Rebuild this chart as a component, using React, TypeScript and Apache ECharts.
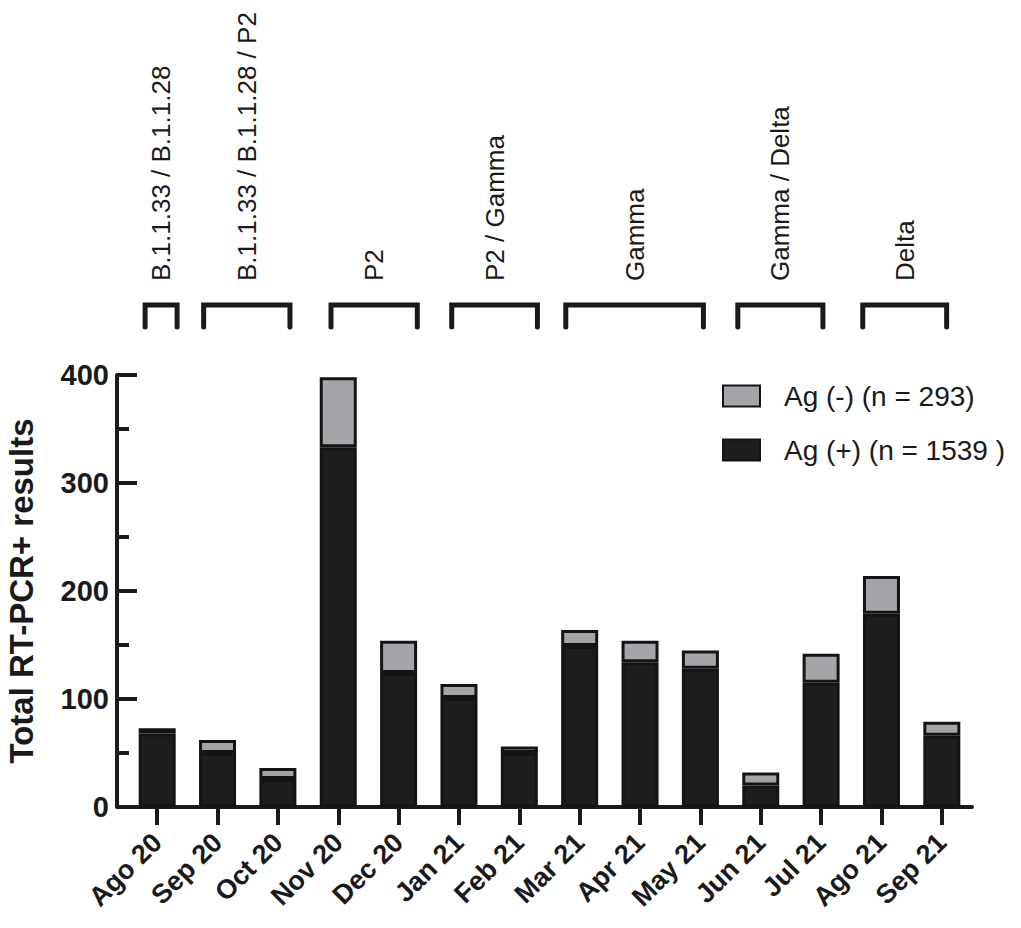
import React, { useEffect, useRef } from "react";
import * as echarts from "echarts";

const categories = ["Ago 20", "Sep 20", "Oct 20", "Nov 20", "Dec 20", "Jan 21", "Feb 21", "Mar 21", "Apr 21", "May 21", "Jun 21", "Jul 21", "Ago 21", "Sep 21"];
const agPositive = [68, 50, 26, 333, 124, 101, 50, 149, 134, 128, 20, 115, 179, 66];
const agNegative = [5, 12, 10, 65, 30, 13, 6, 15, 20, 17, 12, 27, 35, 13];
const yTicks = { min: 0, max: 400, interval: 100 };

const lineageNames = ["B.1.1.33 / B.1.1.28", "B.1.1.33 / B.1.1.28 / P2", "P2", "P2 / Gamma", "Gamma", "Gamma / Delta", "Delta"];
// bracket spans in category units (fractional index positions)
const lineageStart = [-0.2, 0.77, 2.88, 4.88, 6.77, 9.62, 11.69];
const lineageEnd = [0.33, 2.2, 4.31, 6.3, 9.05, 11.03, 13.08];

const seriesNames = ["Ag (+) (n = 1539 )", "Ag (-) (n = 293)"];

const FONT = "'Liberation Sans', Arial, Helvetica, sans-serif";
const INK = "#1a1a1a";

export default function App() {
  const ref = useRef<HTMLDivElement>(null);
  useEffect(() => {
    document.body.style.margin = "0";
    if (!ref.current) return;
    const chart = echarts.init(ref.current, undefined, { renderer: "svg" });
    const option: any = {
      animation: false,
      backgroundColor: "#ffffff",
      textStyle: { fontFamily: FONT },
      grid: { left: 127, right: 49, top: 375, bottom: 121, containLabel: false, outerBoundsMode: "none" },
      legend: {
        orient: "vertical",
        left: 717,
        top: 377,
        itemWidth: 37,
        itemHeight: 21,
        itemGap: 26,
        icon: "rect",
        data: [seriesNames[1], seriesNames[0]],
        textStyle: { fontFamily: FONT, fontSize: 28, color: INK, padding: [0, 0, 0, 19] },
      },
      xAxis: {
        type: "category",
        data: categories,
        axisLine: { show: true, lineStyle: { color: INK, width: 4 } },
        axisTick: { show: true, alignWithLabel: true, length: 18, lineStyle: { color: INK, width: 4 } },
        axisLabel: {
          interval: 0,
          rotate: 45,
          margin: 31,
          fontFamily: FONT,
          fontSize: 27,
          fontWeight: "bold",
          color: INK,
        },
        splitLine: { show: false },
      },
      yAxis: {
        type: "value",
        min: yTicks.min,
        max: yTicks.max,
        interval: yTicks.interval,
        offset: 10,
        name: "Total RT-PCR+ results",
        nameLocation: "middle",
        nameGap: 79,
        nameTextStyle: { fontFamily: FONT, fontSize: 33, fontWeight: "bold", color: INK },
        axisLine: { show: true, lineStyle: { color: INK, width: 4 } },
        axisTick: { show: true, inside: true, length: 20, lineStyle: { color: INK, width: 4 } },
        minorTick: { show: true, splitNumber: 2, length: 12, lineStyle: { color: INK, width: 4 } },
        axisLabel: { margin: 8, fontFamily: FONT, fontSize: 29, fontWeight: "bold", color: INK },
        splitLine: { show: false },
      },
      series: [
        {
          name: seriesNames[0],
          type: "bar",
          stack: "total",
          data: agPositive,
          barWidth: 37,
          itemStyle: { color: "#1e1e1e", borderColor: "#141414", borderWidth: 3 },
        },
        {
          name: seriesNames[1],
          type: "bar",
          stack: "total",
          data: agNegative,
          barWidth: 37,
          itemStyle: { color: "#a6a4a9", borderColor: "#141414", borderWidth: 3 },
        },
      ],
    };
    chart.setOption(option);

    const p0 = chart.convertToPixel({ xAxisIndex: 0 }, 0) as number;
    const p1 = chart.convertToPixel({ xAxisIndex: 0 }, 1) as number;
    const band = p1 - p0;
    const yZero = chart.convertToPixel({ yAxisIndex: 0 }, 0) as number;
    const gridLeft = p0 - band / 2;
    const yAxisX = gridLeft - 10;
    const toPx = (v: number) => p0 + v * band;
    const bracketTop = 305;
    const bracketBottom = 327;
    const labelBottom = 281;
    const graphics: any[] = [
      {
        type: "line",
        shape: { x1: yAxisX, y1: yZero, x2: gridLeft + 1, y2: yZero },
        style: { stroke: INK, lineWidth: 4 },
      },
    ];
    lineageNames.forEach((name, i) => {
      const x1 = toPx(lineageStart[i]);
      const x2 = toPx(lineageEnd[i]);
      graphics.push({
        type: "polyline",
        shape: { points: [[x1, bracketBottom], [x1, bracketTop], [x2, bracketTop], [x2, bracketBottom]] },
        style: { stroke: INK, lineWidth: 5, fill: "none", lineJoin: "miter", lineCap: "round" },
      });
      graphics.push({
        type: "text",
        x: (x1 + x2) / 2,
        y: labelBottom,
        rotation: Math.PI / 2,
        style: {
          text: name,
          fontFamily: FONT,
          fontSize: 26,
          fill: INK,
          align: "left",
          verticalAlign: "middle",
        },
      });
    });
    chart.setOption({ graphic: graphics });

    return () => chart.dispose();
  }, []);
  return <div ref={ref} style={{ width: 1021, height: 928 }} />;
}
